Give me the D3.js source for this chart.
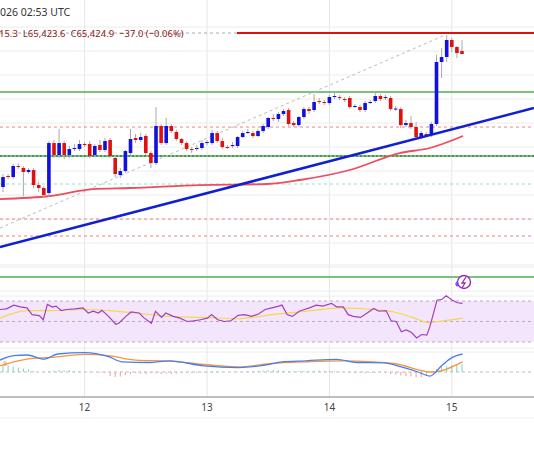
<!DOCTYPE html>
<html>
<head>
<meta charset="utf-8">
<script src="https://cdn.jsdelivr.net/npm/d3@7"></script>
<style>
  body { margin: 0; background: #fff; }
  svg { display: block; font-family: "Noto Sans", "DejaVu Sans", sans-serif; }
</style>
</head>
<body>
<div id="chart"></div>
<script>
const width = 534;
const height = 462;

// hourly candles, hour counted from 11th 00:00 UTC
const firstHour = 8;
const opens = [63762,63900,63887,64025,64000,63950,63975,63787,63750,63687,
  64312,64162,64312,64162,64237,64237,64300,64300,64162,64287,
  64225,64350,64125,63912,63962,64187,64375,64350,64400,64187,
  64062,64525,64312,64525,64450,64362,64312,64237,64237,64250,
  64312,64312,64437,64337,64262,64275,64275,64387,64437,64437,
  64400,64462,64512,64625,64612,64675,64725,64562,64537,64637,
  64737,64725,64837,64825,64812,64887,64887,64862,64875,64762,
  64762,64725,64812,64837,64900,64875,64875,64737,64737,64537,
  64562,64512,64387,64425,64412,64550,65325,65387,65600,65512,65462];
const closes = [63887,63887,64025,64012,63950,63975,63787,63750,63662,64312,
  64162,64312,64162,64237,64250,64300,64287,64150,64275,64225,
  64337,64150,63925,63962,64212,64362,64350,64387,64187,64062,
  64525,64312,64525,64462,64362,64312,64237,64225,64250,64312,
  64325,64437,64337,64262,64256,64287,64387,64437,64450,64400,
  64462,64525,64625,64612,64675,64712,64550,64537,64637,64737,
  64712,64825,64825,64812,64887,64900,64875,64856,64762,64775,
  64725,64812,64825,64900,64862,64887,64737,64743,64537,64562,
  64512,64387,64437,64412,64550,65325,65387,65600,65512,65437,65425];
const highs = [63925,63925,64050,64060,64025,64000,64000,63830,63775,64337,
  64350,64487,64337,64275,64300,64350,64325,64337,64300,64350,
  64375,64375,64150,64000,64225,64487,64425,64437,64425,64212,
  64762,64550,64625,64550,64475,64375,64337,64262,64287,64350,
  64350,64475,64462,64375,64287,64325,64400,64462,64487,64462,
  64487,64550,64637,64675,64700,64737,64750,64587,64650,64762,
  64762,64925,64875,64850,64912,64950,64912,64887,64900,64800,
  64787,64837,64850,64937,64925,64912,64900,64775,64762,64600,
  64650,64575,64462,64450,64575,65412,65500,65662,65625,65525,65600];
const lows = [63700,63862,63862,63990,63650,63925,63750,63700,63625,63637,
  64125,64125,64112,64125,64212,64212,64262,64125,64150,64200,
  64200,64125,63887,63875,63937,64162,64312,64325,64162,64000,
  64037,64287,64287,64437,64337,64287,64212,64187,64212,64225,
  64287,64287,64312,64237,64237,64250,64250,64375,64425,64375,
  64387,64437,64487,64587,64575,64650,64525,64512,64512,64612,
  64675,64700,64800,64787,64787,64862,64850,64825,64737,64750,
  64700,64700,64800,64812,64837,64850,64712,64712,64500,64512,
  64487,64362,64362,64387,64387,64525,65125,65325,65450,65375,65424];

// moving average (red) as [hour, price]
const maLine = [[7.4,63612],[17.2,63650],[25.6,63737],[32.9,63750],[46.6,63787],[59.8,63800],
  [66.2,63850],[76,63975],[85.8,64187],[91.7,64250],[98.2,64400]];
// trendline (blue) and dotted channel line
const trendLine = [[7.4,63012],[112.1,64750]];
const dottedLine = [[7.4,63250],[94.7,65662]];
// horizontal levels
const greenLevels = [64950, 62637];
const greenDark = 64150;
const redDashed = [64512, 63362, 63150];
const cyanDashed = 63800;
const resistance = 65687;
const priceGrid = [65762,65462,65162,64862,64562,64262,63962,63662,63362,63062,62762];

// RSI [hour, value]
const rsi = [[7.4,61.7],[8.7,62.3],[10.1,66],[11.4,64.3],[12.7,63.3],[13.7,56.7],[15.1,55.7],[15.9,51.7],
  [16.7,66.7],[17.7,64],[18.4,65],[19.4,60.7],[20.4,61.7],[22.1,62.3],[23.7,63.3],[24.7,58.3],[25.7,60],
  [26.7,58.3],[27.4,61],[28.7,55],[30.1,47.3],[30.7,48.3],[32.1,55],[33.1,59.3],[34.7,58.3],[35.7,53.3],
  [37.1,48.3],[37.9,60],[39.1,54],[39.9,58.3],[41.4,55],[42.7,53.3],[44.1,50],[45.4,50.7],[46.7,51.7],
  [48.1,53.3],[48.9,56.7],[50.1,51.7],[51.4,50],[52.7,50.7],[54.1,56],[55.4,56.7],[56.7,55],[58.1,57.3],
  [59.4,61.7],[60.7,63.3],[62.1,65],[62.7,66],[63.7,56.7],[64.7,55],[66.1,60],[67.1,61.7],[68.1,63.3],
  [69.4,66],[70.7,65],[72.4,67.7],[73.4,64.3],[74.7,64.3],[75.7,56.7],[76.7,55],[78.1,54],[79.4,58.3],
  [80.7,62.7],[81.7,60],[83.1,60.7],[84.1,50.7],[85.1,50],[86.1,40],[87.1,41.7],[88.1,39.3],[89.1,34],
  [90.1,37.3],[91.1,36.7],[91.7,45],[93.1,70.7],[94.1,71.7],[94.9,75],[96.1,70.7],[97.1,68.3],[98.1,67.7]];
const rsiMa = [[7.4,53.3],[12.7,60.7],[17.4,60.7],[24.1,61.7],[28.7,60.7],[34.1,58.3],[40.7,55],
  [47.4,54],[54.1,52.7],[60.7,56.7],[67.4,60],[74.1,63.3],[80.7,61.7],[84.7,59.3],[88.7,53.3],
  [91.4,49],[93.4,50],[98.1,53.3]];

// MACD [hour, value]
const macd = [[7.4,119],[10.1,163],[12.7,170],[16.1,129],[18.7,180],[24.1,194],[28.7,153],[31.4,102],
  [36.7,95],[40.7,112],[47.4,61],[54.1,44],[59.4,68],[62.7,102],[67.4,112],[73.4,126],[77.4,95],
  [82.7,92],[86.1,51],[89.4,0],[91.7,-41],[94.1,68],[96.1,146],[98.1,180]];
const signal = [[7.4,61],[12.7,129],[17.4,146],[24.1,177],[28.7,163],[34.1,119],[40.7,109],[47.4,75],
  [54.1,51],[60.7,85],[67.4,102],[74.1,112],[80.7,102],[84.7,85],[92.1,0],[98.1,102]];
const hist = [60,70,55,45,35,25, 10,0,-5, 10,15,20,15,20,10,5, 0,-5,0,-8,-10,
  -40,-50,-45,-30,-20, -10,-15,-20,-10,-15,-20,-15,-20,-15,-10,
  -8,-10,-12,-5,-8,-10,-5,-3,0,0, 3,5,8,10,12,15, 18,20,15,12,10,8,10,12,10,
  12,15,12,10,8,5,0, -10,-12,-10,-15,-10,-8,-5,-5, -20,-25,-35,-40,-45,-55,-50,-40,
  -10,30,50,60,70,75,80];

const dayTicks = [24, 48, 72, 96];
const dayLabels = ["12", "13", "14", "15"];

const svg = d3.select("#chart").append("svg")
  .attr("width", width).attr("height", height);

// Scales
const x = d3.scaleLinear().domain([48, 72]).range([207, 207 + 24 * 5.1]);
const y = d3.scaleLinear().domain([66100, 62475]).range([0, 290]);
const yR = d3.scaleLinear().domain([70, 30]).range([301, 342]);
const yM = d3.scaleLinear().domain([0, 100]).range([372, 362]);

// grid
svg.append("g").selectAll("line").data(dayTicks).enter().append("line")
  .attr("x1", d => x(d)).attr("x2", d => x(d)).attr("y1", 0).attr("y2", 397)
  .attr("stroke", "#e6e6e6");
svg.append("g").selectAll("line").data(priceGrid).enter().append("line")
  .attr("x1", 0).attr("x2", width).attr("y1", d => y(d)).attr("y2", d => y(d))
  .attr("stroke", "#ececec");
[265, 291, 296, 348, 352].forEach(v => svg.append("line")
  .attr("x1", 0).attr("x2", width).attr("y1", v).attr("y2", v).attr("stroke", "#ececec"));

// level lines
const hline = (p, color, w, dash) => svg.append("line")
  .attr("x1", 0).attr("x2", width).attr("y1", y(p)).attr("y2", y(p))
  .attr("stroke", color).attr("stroke-width", w).attr("stroke-dasharray", dash || null);
redDashed.forEach(p => hline(p, "#f08080", 1, "3,3"));
hline(cyanDashed, "#8fe0d6", 1, "3,3");
greenLevels.forEach(p => hline(p, "#4caf50", 1.6));
hline(greenDark, "#4caf50", 1.6);
hline(greenDark, "#2e5e30", 1, "2,2");
hline(resistance, "#aaa", 1, "3,3");
svg.append("line").attr("x1", 237).attr("x2", width)
  .attr("y1", y(resistance)).attr("y2", y(resistance))
  .attr("stroke", "#e01010").attr("stroke-width", 2);

const priceLine = d3.line().x(d => x(d[0])).y(d => y(d[1]));
svg.append("path").datum(dottedLine).attr("d", priceLine)
  .attr("fill", "none").attr("stroke", "#bbb").attr("stroke-dasharray", "3,3");
svg.append("path").datum(maLine).attr("d", d3.line().curve(d3.curveMonotoneX)
  .x(d => x(d[0])).y(d => y(d[1])))
  .attr("fill", "none").attr("stroke", "#ee4d5f").attr("stroke-width", 1.8);

// candles
const candles = opens.map((o, i) => ({ h: firstHour + i, o, c: closes[i], hi: highs[i], lo: lows[i] }));
const cg = svg.append("g");
cg.selectAll("line").data(candles).enter().append("line")
  .attr("x1", d => x(d.h)).attr("x2", d => x(d.h))
  .attr("y1", d => y(d.hi)).attr("y2", d => y(d.lo))
  .attr("stroke", "#aaa");
cg.selectAll("rect").data(candles).enter().append("rect")
  .attr("x", d => x(d.h) - 1.8).attr("width", 3.6)
  .attr("y", d => y(Math.max(d.o, d.c)))
  .attr("height", d => Math.max(1, Math.abs(y(d.o) - y(d.c))))
  .attr("fill", d => d.c >= d.o ? "#1010e0" : "#e01010");

svg.append("path").datum(trendLine).attr("d", priceLine)
  .attr("fill", "none").attr("stroke", "#1020d0").attr("stroke-width", 2.6);

// header
svg.append("text").attr("x", 0).attr("y", 16)
  .attr("font-size", 10.5).attr("fill", "#333").text("026 02:53 UTC");
const hdr = svg.append("text").attr("x", -1).attr("y", 37).attr("font-size", 9.5)
  .attr("fill", "#8b2020").attr("xml:space", "preserve");
hdr.append("tspan").text("15.3  ");
hdr.append("tspan").attr("fill", "#444").text("L");
hdr.append("tspan").text("65,423.6  ");
hdr.append("tspan").attr("fill", "#444").text("C");
hdr.append("tspan").text("65,424.9  −37.0 (−0.06%)");

// RSI pane
svg.append("rect").attr("x", 0).attr("width", width).attr("y", yR(70))
  .attr("height", yR(30) - yR(70)).attr("fill", "#f3e6fc");
[70, 50, 30].forEach(v => svg.append("line").attr("x1", 0).attr("x2", width)
  .attr("y1", yR(v)).attr("y2", yR(v)).attr("stroke", "#bba8c8").attr("stroke-dasharray", "3,3"));
svg.append("path").datum(rsiMa).attr("d", d3.line().curve(d3.curveMonotoneX).x(d => x(d[0])).y(d => yR(d[1])))
  .attr("fill", "none").attr("stroke", "#f5d84a").attr("stroke-width", 1.2);
svg.append("path").datum(rsi).attr("d", d3.line().x(d => x(d[0])).y(d => yR(d[1])))
  .attr("fill", "none").attr("stroke", "#a23fc0").attr("stroke-width", 1.2);

// alert icon
svg.append("circle").attr("cx", 464).attr("cy", 282).attr("r", 6.5)
  .attr("fill", "#fff").attr("stroke", "#9c27b0").attr("stroke-width", 1.4);
svg.append("path").attr("d", "M466,277 L462,283 L465,283 L462,288")
  .attr("fill", "none").attr("stroke", "#9c27b0").attr("stroke-width", 1.3);
svg.append("path").attr("d", "M455,284 l2,-3 l2,3 l-2,3z").attr("fill", "#7b4dff");

// MACD pane
svg.append("line").attr("x1", 0).attr("x2", width).attr("y1", yM(0)).attr("y2", yM(0))
  .attr("stroke", "#bbb").attr("stroke-dasharray", "3,3");
svg.append("g").selectAll("line").data(hist).enter().append("line")
  .attr("x1", (d, i) => x(firstHour + i)).attr("x2", (d, i) => x(firstHour + i))
  .attr("y1", yM(0)).attr("y2", d => yM(d))
  .attr("stroke", d => d >= 0 ? "#7fd1c4" : "#f49a9a").attr("stroke-width", 1);
const mLine = d3.line().curve(d3.curveMonotoneX).x(d => x(d[0])).y(d => yM(d[1]));
svg.append("path").datum(signal).attr("d", mLine)
  .attr("fill", "none").attr("stroke", "#f7953a").attr("stroke-width", 1.3);
svg.append("path").datum(macd).attr("d", mLine)
  .attr("fill", "none").attr("stroke", "#4a7df0").attr("stroke-width", 1.3);
svg.append("text").attr("x", 3).attr("y", 366).attr("font-size", 7).attr("fill", "#f7953a").text("8");

// x axis
svg.append("line").attr("x1", 0).attr("x2", width).attr("y1", 397).attr("y2", 397)
  .attr("stroke", "#aaa").attr("stroke-width", 1.5);
svg.append("line").attr("x1", 0).attr("x2", width).attr("y1", 418).attr("y2", 418)
  .attr("stroke", "#f0f0f0");
svg.append("g").selectAll("text").data(dayTicks).enter().append("text")
  .attr("x", d => x(d)).attr("y", 411).attr("text-anchor", "middle")
  .attr("font-size", 10).attr("fill", "#444").text((d, i) => dayLabels[i]);
</script>
</body>
</html>
